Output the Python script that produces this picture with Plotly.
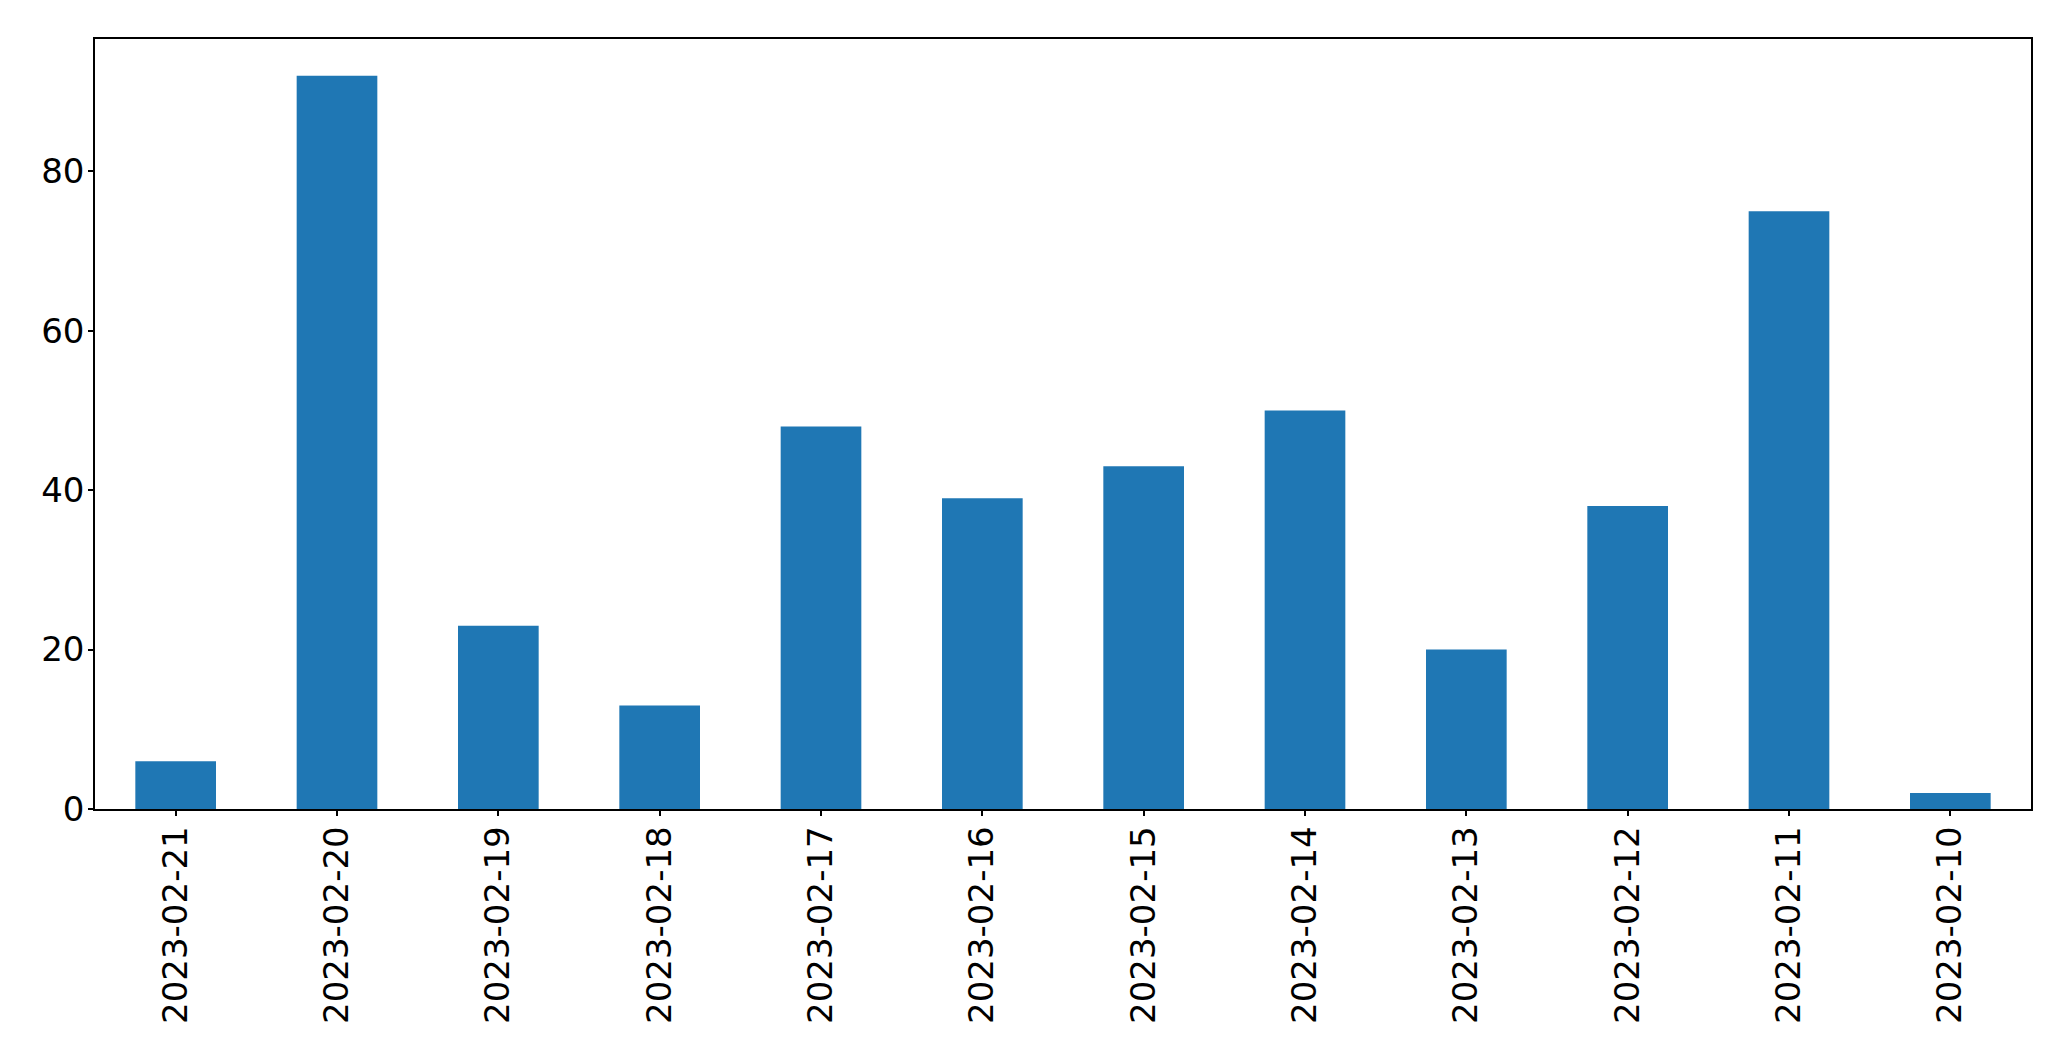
import plotly.graph_objects as go

dates = ["2023-02-21", "2023-02-20", "2023-02-19", "2023-02-18", "2023-02-17", "2023-02-16",
         "2023-02-15", "2023-02-14", "2023-02-13", "2023-02-12", "2023-02-11", "2023-02-10"]
values = [6, 92, 23, 13, 48, 39, 43, 50, 20, 38, 75, 2]
y_ticks = [0, 20, 40, 60, 80]

fig = go.Figure(go.Bar(x=dates, y=values, marker=dict(color="#1f77b4", line=dict(width=0))))

font = dict(family="DejaVu Sans", size=34, color="black")
fig.update_layout(
    width=2071, height=1061,
    margin=dict(l=87, r=48, t=31, b=260, pad=0),
    paper_bgcolor="white", plot_bgcolor="white",
    bargap=0.5, showlegend=False, font=font,
)
fig.update_xaxes(type="category", range=[-0.5, len(dates) - 0.5], tickangle=-90,
                 showline=True, linecolor="black", linewidth=1.5, mirror=True,
                 ticks="outside", ticklen=5, tickwidth=1.5, tickcolor="black",
                 ticklabelstandoff=-3,
                 showgrid=False, zeroline=False, tickfont=font)
fig.update_yaxes(range=[0, 96.6], tickvals=y_ticks,
                 showline=True, linecolor="black", linewidth=1.5, mirror=True,
                 ticks="outside", ticklen=5, tickwidth=1.5, tickcolor="black",
                 ticklabelstandoff=-3,
                 showgrid=False, zeroline=False, tickfont=font)
fig.write_html("out.html")
